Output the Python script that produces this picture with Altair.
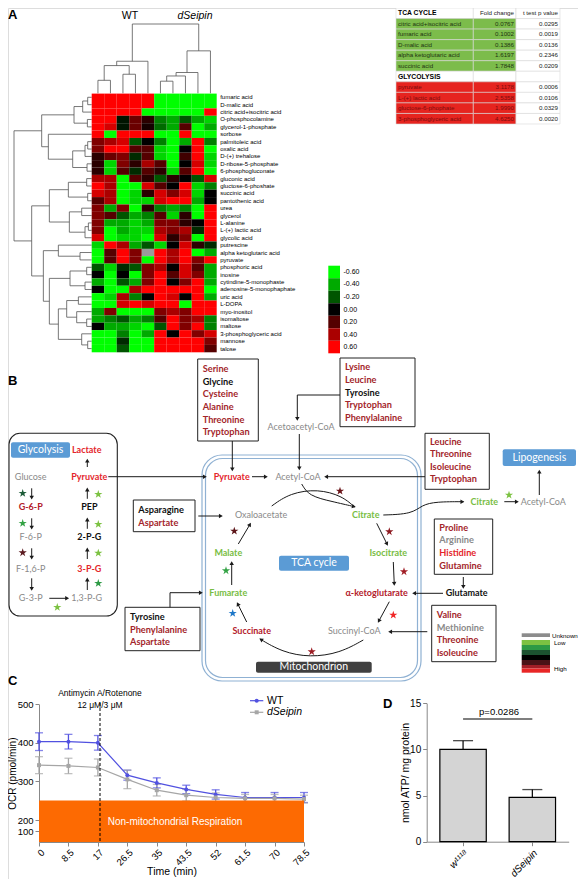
import math
import altair as alt
import pandas as pd

W, H = 570, 871

# ======================= DATA =======================
# ---- Panel A : heat map ----
metabolites = [
    "fumaric acid", "D-malic acid", "citric acid+isocitric acid", "O-phosphocolamine",
    "glycerol-1-phosphate", "sorbose", "palmitoleic acid", "oxalic acid", "D-(+) trehalose",
    "D-ribose-5-phosphate", "6-phosphogluconate", "gluconic acid", "gluctose-6-phoshate",
    "succinic acid", "pantothenic acid", "urea", "glycerol", "L-alanine", "L-(+) lactic acid",
    "glycolic acid", "putrescine", "alpha ketoglutaric acid", "pyruvate", "phosphoric acid",
    "inosine", "cytindine-5-monophaste", "adenosine-5-monophaphate", "uric acid", "L-DOPA",
    "myo-inositol", "isomaltose", "maltose", "3-phosphoglyceric acid", "mannose", "talose"]
samples = ["WT1", "WT2", "WT3", "WT4", "WT5", "dS1", "dS2", "dS3", "dS4", "dS5"]
heat = [
    [0.6, 0.6, 0.6, 0.6, 0.6, -0.6, -0.6, -0.6, -0.6, -0.6],
    [0.6, 0.6, 0.6, 0.6, 0.6, -0.6, -0.6, -0.6, -0.6, -0.6],
    [0.6, 0.6, 0.6, 0.6, -0.6, -0.6, -0.6, -0.6, -0.6, 0.6],
    [0.6, 0.6, -0.05, 0.25, 0.1, -0.3, -0.4, -0.2, -0.4, -0.5],
    [0.6, 0.5, -0.05, 0.25, 0.05, -0.25, -0.4, 0.2, -0.6, -0.4],
    [0.6, -0.6, 0.6, 0.6, 0.6, -0.6, -0.6, 0.6, -0.6, -0.6],
    [0.3, 0.4, 0.5, -0.2, 0.0, -0.3, -0.6, -0.4, 0.6, -0.3],
    [0.3, 0.6, 0.6, 0.2, 0.2, -0.5, -0.6, 0.0, 0.6, -0.6],
    [0.1, 0.25, 0.3, -0.1, 0.2, -0.5, -0.6, 0.15, 0.6, -0.5],
    [0.1, -0.5, 0.3, 0.1, 0.4, 0.2, -0.6, 0.0, 0.5, -0.5],
    [0.1, -0.5, 0.2, -0.1, 0.2, 0.1, -0.5, 0.2, 0.6, -0.6],
    [0.4, 0.4, -0.6, 0.2, 0.1, -0.2, 0.1, 0.0, -0.2, 0.5],
    [0.6, 0.4, -0.6, -0.6, 0.5, 0.2, 0.0, 0.6, -0.5, -0.3],
    [0.5, 0.4, -0.6, -0.5, 0.1, 0.5, 0.3, 0.5, -0.5, 0.0],
    [0.2, 0.4, -0.6, -0.5, -0.5, 0.5, 0.6, 0.6, -0.4, 0.0],
    [0.3, -0.4, 0.3, -0.6, 0.1, -0.3, -0.4, -0.3, -0.6, 0.6],
    [0.3, 0.2, -0.2, -0.4, -0.3, 0.2, -0.5, 0.1, -0.6, 0.6],
    [0.3, -0.4, -0.4, -0.5, -0.4, 0.3, 0.3, 0.1, 0.0, 0.6],
    [0.3, -0.6, -0.4, -0.5, -0.5, 0.4, 0.3, 0.4, -0.1, 0.6],
    [0.5, -0.6, -0.5, -0.5, -0.6, 0.5, 0.1, 0.3, -0.6, 0.6],
    [-0.5, 0.6, 0.4, -0.4, -0.2, -0.5, 0.0, 0.5, 0.1, -0.1],
    [-0.6, 0.2, 0.6, 0.3, None, 0.6, 0.4, 0.6, -0.6, -0.4],
    [-0.6, 0.2, 0.6, 0.3, -0.6, 0.6, 0.4, 0.6, 0.3, 0.6],
    [-0.2, -0.5, -0.1, -0.2, 0.3, 0.4, 0.0, 0.5, 0.2, -0.4],
    [0.0, -0.6, 0.0, -0.6, 0.3, 0.6, 0.2, 0.5, 0.3, -0.4],
    [-0.4, -0.6, -0.2, -0.4, 0.3, 0.6, 0.0, 0.3, 0.6, -0.4],
    [0.0, -0.6, -0.6, 0.4, 0.6, 0.6, 0.6, 0.6, 0.6, -0.6],
    [-0.6, -0.5, 0.4, -0.3, 0.0, 0.6, 0.5, 0.0, 0.6, -0.4],
    [-0.6, -0.6, 0.5, 0.6, 0.5, 0.6, 0.6, -0.6, 0.6, 0.6],
    [-0.4, 0.3, -0.6, -0.6, -0.6, 0.3, 0.4, 0.3, 0.6, 0.6],
    [-0.4, -0.3, -0.2, -0.4, -0.3, 0.2, 0.6, 0.3, 0.4, -0.3],
    [0.0, -0.4, -0.4, -0.5, -0.6, -0.2, 0.6, 0.3, 0.6, -0.3],
    [-0.6, -0.6, -0.3, -0.6, -0.4, 0.6, 0.0, 0.6, 0.3, 0.5],
    [-0.6, -0.6, -0.1, -0.6, -0.6, 0.6, 0.6, 0.6, 0.6, 0.3],
    [-0.6, -0.6, -0.2, -0.6, -0.6, 0.6, 0.6, 0.6, 0.6, 0.2],
]
legend_vals = [-0.6, -0.4, -0.2, 0.0, 0.2, 0.4, 0.6]
legend_labels = ["-0.60", "-0.40", "-0.20", "0.00", "0.20", "0.40", "0.60"]
# hierarchical clustering merges: (left, right, height)
col_merges = [(0, 1, 15), (2, 3, 22), (10, 11, 32), (12, 4, 37), (5, 6, 14),
              (14, 7, 20), (15, 8, 24), (16, 9, 49), (13, 17, 80)]
row_merges = [(0, 1, 12), (35, 2, 27), (3, 4, 13), (36, 37, 53), (6, 7, 12), (39, 8, 20),
              (9, 10, 14), (40, 41, 57), (5, 42, 130), (38, 43, 150), (11, 12, 15), (13, 14, 12),
              (45, 46, 70), (15, 16, 30), (17, 18, 10), (49, 19, 20), (48, 50, 67), (47, 51, 127),
              (21, 22, 35), (20, 53, 100), (23, 24, 15), (25, 26, 20), (55, 56, 65), (27, 28, 40),
              (30, 31, 15), (29, 59, 45), (58, 60, 75), (33, 34, 12), (32, 62, 30), (61, 63, 100),
              (57, 64, 127), (54, 65, 145), (52, 66, 180), (44, 67, 233)]
group_labels = ["WT", "dSeipin"]

# ---- Panel A : table ----
table_header = ["TCA CYCLE", "Fold change", "t test p value"]
tca_names = ["citric acid+isocitric acid", "fumaric acid", "D-malic acid",
             "alpha ketoglutaric acid", "succinic acid"]
tca_fold = ["0.0767", "0.1002", "0.1386", "1.6197", "1.7848"]
tca_p = ["0.0295", "0.0019", "0.0136", "0.2346", "0.0209"]
gly_title = "GLYCOLYSIS"
gly_names = ["pyruvate", "L-(+) lactic acid", "gluctose-6-phophate", "3-phosphoglyceric acid"]
gly_fold = ["3.1178", "2.5358", "1.9990", "4.6250"]
gly_p = ["0.0006", "0.0106", "0.0329", "0.0020"]

# ---- Panel C ----
times = ["0", "8.5", "17", "26.5", "35", "43.5", "52", "61.5", "70", "78.5"]
wt_mean = [403, 403, 400, 316, 296, 279, 266, 258, 258, 258]
wt_err = [23, 19, 19, 13, 13, 11, 12, 13, 13, 13]
ds_mean = [342, 340, 336, 305, 277, 264, 258, 256, 256, 254]
ds_err = [22, 20, 22, 24, 15, 15, 12, 10, 10, 10]
non_mito = 250
series_names = ["WT", "dSeipin"]

# ---- Panel D ----
atp_groups = ["w\u00b9\u00b9\u00b9\u2078", "dSeipin"]
atp_mean = [10.0, 4.8]
atp_err = [0.95, 0.85]
p_text = "p=0.0286"
p_line = 13.3

# ---- Panel B (pathway schematic) ----
DR, RD, KR = "#a3262b", "#e4262c", "#b3202b"
GY, GN, BK = "#8a8a8a", "#78bd43", "#111111"
aa_serine = [("Serine", DR), ("Glycine", BK), ("Cysteine", DR), ("Alanine", DR),
             ("Threonine", DR), ("Tryptophan", DR)]
aa_lysine = [("Lysine", DR), ("Leucine", DR), ("Tyrosine", BK), ("Tryptophan", DR),
             ("Phenylalanine", DR)]
aa_leucine = [("Leucine", DR), ("Threonine", DR), ("Isoleucine", DR), ("Tryptophan", DR)]
aa_asparagine = [("Asparagine", BK), ("Aspartate", DR)]
aa_tyrosine = [("Tyrosine", BK), ("Phenylalanine", DR), ("Aspartate", DR)]
aa_proline = [("Proline", DR), ("Arginine", GY), ("Histidine", RD), ("Glutamine", DR)]
aa_valine = [("Valine", DR), ("Methionine", GY), ("Threonine", DR), ("Isoleucine", DR)]
metab_bold = [("Lactate", 86.7, 450, RD), ("Pyruvate", 89.3, 476.7, RD), ("G-6-P", 30.7, 506.7, KR),
              ("PEP", 89.3, 506.7, BK), ("2-P-G", 89.3, 537, BK), ("3-P-G", 89.3, 568.7, RD),
              ("Pyruvate", 231.7, 476.7, RD), ("Citrate", 365.7, 515, GN),
              ("Isocitrate", 388.3, 553.3, GN), ("\u03b1-ketoglutarate", 376.7, 592.7, KR),
              ("Succinate", 251.7, 631, KR), ("Fumarate", 228.3, 592.7, GN),
              ("Malate", 228.3, 553.3, GN), ("Glutamate", 466.7, 593.3, BK),
              ("Citrate", 484.3, 501.7, GN)]
metab_plain = [("Glucose", 30.7, 476.7, GY), ("F-6-P", 30.7, 537, GY), ("F-1,6-P", 30.7, 568.7, GY),
               ("G-3-P", 30.7, 598.3, GY), ("1,3-P-G", 86.7, 598.3, GY),
               ("Acetyl-CoA", 298, 476.7, GY), ("Acetoacetyl-CoA", 301, 427, GY),
               ("Oxaloacetate", 261, 515, GY), ("Succinyl-CoA", 354.3, 631, GY),
               ("Acetyl-CoA", 543.3, 501.7, GY)]
tag_boxes = [("Glycolysis", "#5b9bd5"), ("TCA cycle", "#5b9bd5"), ("Lipogenesis", "#5b9bd5"),
             ("Mitochondrion", "#404040")]
star_colors = ["#1d5c38", "#34a345", "#5b1a1f", "#7cc242", "#7cc242", "#7cc242", "#2d9a45",
               "#7cc242", "#6b1519", "#8e1b22", "#a11e26", "#f02626", "#9c1d24", "#1f78c8",
               "#34a345", "#5c1519", "#7cc242"]
key_colors = ["#8c8c8c", "#7cc242", "#2e9a45", "#1c5230", "#000000", "#4a1216", "#a11e26", "#e82626"]
key_labels = ["Unknown", "Low", "High"]

# ======================= LAYOUT (pixel geometry, not data) =======================
SX = alt.Scale(domain=[8, 8 + W], range=[0, W])   # reference-pixel frame -> chart
SY = alt.Scale(domain=[8, 8 + H], range=[0, H])
HM_X = [83.7, 208.7]
HM_Y = [85.6, 344.3]


def ix(f="x"):
    return alt.X(f"{f}:Q", scale=SX, axis=None)


def iy(f="y"):
    return alt.Y(f"{f}:Q", scale=SY, axis=None)


layers = []

# ---------- dendrograms ----------
def dendro(n, merges):
    pos = {i: float(i) for i in range(n)}
    hg = {i: 0.0 for i in range(n)}
    segs = []
    for k, (a, b, h) in enumerate(merges):
        segs.append((pos[a], hg[a], pos[a], h))
        segs.append((pos[b], hg[b], pos[b], h))
        segs.append((pos[a], h, pos[b], h))
        pos[n + k] = (pos[a] + pos[b]) / 2
        hg[n + k] = h
    return pd.DataFrame(segs, columns=["p1", "h1", "p2", "h2"])


rd = dendro(len(metabolites), row_merges)
layers.append(alt.Chart(rd).mark_rule(color="#555555", strokeWidth=0.8).encode(
    x=alt.X("h1:Q", scale=alt.Scale(domain=[0, 233], range=[HM_X[0], 6]), axis=None),
    x2="h2", y=alt.Y("p1:Q", scale=alt.Scale(domain=[-0.5, len(metabolites) - 0.5], range=HM_Y), axis=None),
    y2="p2"))
cd = dendro(len(samples), col_merges)
layers.append(alt.Chart(cd).mark_rule(color="#555555", strokeWidth=0.8).encode(
    x=alt.X("p1:Q", scale=alt.Scale(domain=[-0.5, len(samples) - 0.5], range=HM_X), axis=None),
    x2="p2", y=alt.Y("h1:Q", scale=alt.Scale(domain=[0, 80], range=[HM_Y[0] - 0.3, 16]), axis=None),
    y2="h2"))

# ---------- heat map ----------
hm = pd.DataFrame([(m, s, heat[i][j]) for i, m in enumerate(metabolites) for j, s in enumerate(samples)],
                  columns=["met", "smp", "v"])
HEAT = alt.Scale(domain=[-0.6, 0, 0.6], range=["#00ff00", "#000000", "#ff0000"], clamp=True, interpolate="rgb")
hx = alt.X("smp:N", sort=samples, scale=alt.Scale(domain=samples, range=HM_X, paddingInner=0, paddingOuter=0), axis=None)
layers.append(alt.Chart(hm).transform_filter("!isValid(datum.v)").mark_rect(color="#9a9a9a").encode(
    x=hx, y=alt.Y("met:N", sort=metabolites, scale=alt.Scale(domain=metabolites, range=HM_Y, paddingInner=0, paddingOuter=0), axis=None)))
layers.append(alt.Chart(hm).transform_filter("isValid(datum.v)").mark_rect().encode(
    x=hx,
    y=alt.Y("met:N", sort=metabolites,
            scale=alt.Scale(domain=metabolites, range=HM_Y, paddingInner=0, paddingOuter=0),
            axis=alt.Axis(orient="right", offset=-(W - HM_X[1]), ticks=False, domain=False, labelPadding=3,
                          labelFontSize=6, labelFont="Liberation Sans", labelColor="black", title=None,
                          labelOverlap=False, grid=False)),
    color=alt.Color("v:Q", scale=HEAT, legend=None)))

# heat legend
lg = pd.DataFrame({"v": legend_vals, "lab": legend_labels})
layers.append(alt.Chart(lg).mark_rect().encode(
    y=alt.Y("lab:N", sort=legend_labels,
            scale=alt.Scale(domain=legend_labels, range=[257.7, 345.3], paddingInner=0, paddingOuter=0),
            axis=alt.Axis(orient="right", offset=-(W - 332), ticks=False, domain=False, labelPadding=3,
                          labelFontSize=7, labelFont="Liberation Sans", labelColor="black", title=None,
                          labelOverlap=False, grid=False)),
    x=alt.value(320.3), x2=alt.value(332),
    color=alt.Color("v:Q", scale=HEAT, legend=None)))

# group labels
gl = pd.DataFrame({"t": group_labels, "x": [130, 195], "y": [11, 11], "st": ["normal", "italic"]})
for st in ["normal", "italic"]:
    layers.append(alt.Chart(gl[gl.st == st]).mark_text(fontSize=10.5, font="Liberation Sans", fontStyle=st,
                                                       baseline="top").encode(x=ix(), y=iy(), text="t:N"))

# ---------- table ----------
TB_EDGES = [388, 465.3, 508, 552]
TGREEN, TRED = "#7cbc4b", "#e6241f"
trows = [("head", table_header)]
trows += [("tca", [n, f, p]) for n, f, p in zip(tca_names, tca_fold, tca_p)]
trows += [("sect", [gly_title, "", ""])]
trows += [("gly", [n, f, p]) for n, f, p in zip(gly_names, gly_fold, gly_p)]
cells = []
for r, (kind, vals) in enumerate(trows):
    for c in range(3):
        fill = "#ffffff"
        tcol = "#222222"
        if kind == "tca" and c < 2:
            fill, tcol = TGREEN, "#1c3410"
        if kind == "gly" and c < 2:
            fill, tcol = TRED, "#7a0c0c"
        bold = (kind in ("head", "sect")) and c == 0
        cells.append(dict(r=r, c=c, x0=TB_EDGES[c], x1=TB_EDGES[c + 1], fill=fill, t=vals[c],
                          tc=tcol, bold=bold, xl=TB_EDGES[c] + 2, xr=TB_EDGES[c + 1] - 2))
tb = pd.DataFrame(cells)
TX = alt.Scale(domain=[0, W], range=[0, W])
TY = alt.Scale(domain=list(range(len(trows))), range=[0, 116], paddingInner=0, paddingOuter=0)
layers.append(alt.Chart(tb).mark_rect(stroke="#d9d9d9", strokeWidth=0.6).encode(
    x=alt.X("x0:Q", scale=TX, axis=None), x2="x1",
    y=alt.Y("r:O", scale=TY, axis=None), fill=alt.Fill("fill:N", scale=None)))
layers.append(alt.Chart(tb[(tb.c == 0) & (~tb.bold)]).mark_text(
    align="left", fontSize=6.2, font="Liberation Sans").encode(
    x=alt.X("xl:Q", scale=TX, axis=None), y=alt.Y("r:O", scale=TY, axis=None), text="t:N",
    color=alt.Color("tc:N", scale=None)))
layers.append(alt.Chart(tb[(tb.c == 0) & (tb.bold)]).mark_text(
    align="left", fontSize=6.8, font="Liberation Sans", fontWeight="bold").encode(
    x=alt.X("xl:Q", scale=TX, axis=None), y=alt.Y("r:O", scale=TY, axis=None), text="t:N",
    color=alt.value("black")))
layers.append(alt.Chart(tb[tb.c > 0]).mark_text(
    align="right", fontSize=6.2, font="Liberation Sans").encode(
    x=alt.X("xr:Q", scale=TX, axis=None), y=alt.Y("r:O", scale=TY, axis=None), text="t:N",
    color=alt.Color("tc:N", scale=None)))

# ---------- Panel B ----------
def box_df(rows):
    return pd.DataFrame(rows, columns=["x", "y", "x2", "y2"])

# mitochondrion double membrane
layers.append(alt.Chart(box_df([(202, 455, 421, 681)])).mark_rect(
    fillOpacity=0, stroke="#8fb1d3", strokeWidth=1.2, cornerRadius=20).encode(x=ix(), x2="x2", y=iy(), y2="y2"))
layers.append(alt.Chart(box_df([(205.5, 458.5, 417.5, 677.5)])).mark_rect(
    fillOpacity=0, stroke="#8fb1d3", strokeWidth=1.2, cornerRadius=17).encode(x=ix(), x2="x2", y=iy(), y2="y2"))
# glycolysis frame
layers.append(alt.Chart(box_df([(9, 433.3, 117.3, 616)])).mark_rect(
    fillOpacity=0, stroke="#222222", strokeWidth=1.1, cornerRadius=11).encode(x=ix(), x2="x2", y=iy(), y2="y2"))

aa_geom = [  # (list, box x0, y0, x1, y1, first line y, line step)
    (aa_serine, 197.7, 359, 258.3, 441, 369.3, 12.55),
    (aa_lysine, 340, 358, 415, 426.7, 367.3, 12.6),
    (aa_leucine, 425, 433.3, 489.3, 489.3, 441.7, 12.5),
    (aa_asparagine, 133.3, 500, 195, 531.7, 510, 12.7),
    (aa_tyrosine, 125, 607.3, 200, 650.7, 617.3, 12.5),
    (aa_proline, 434.3, 519, 492.7, 574.3, 527.7, 12.7),
    (aa_valine, 431.7, 605.3, 496, 661.7, 615, 12.5),
]
layers.append(alt.Chart(box_df([(g[1], g[2], g[3], g[4]) for g in aa_geom])).mark_rect(
    color="white", stroke="#222222", strokeWidth=1).encode(x=ix(), x2="x2", y=iy(), y2="y2"))
aa_txt = []
for lst, x0, y0, x1, y1, ty, st in aa_geom:
    for k, (name, col) in enumerate(lst):
        aa_txt.append((name, x0 + 5, ty + k * st, col))
aa_df = pd.DataFrame(aa_txt, columns=["t", "x", "y", "c"])
layers.append(alt.Chart(aa_df).mark_text(align="left", baseline="middle", fontSize=9.2, font="Lato",
                                         fontWeight="bold").encode(
    x=ix(), y=iy(), text="t:N", color=alt.Color("c:N", scale=None)))

# label boxes
tag_geom = [(11, 442.3, 70, 457.7), (279, 555.7, 349, 570.7), (502.7, 449.3, 576, 466), (256, 661.7, 371.7, 672.7)]
tg = pd.DataFrame([(t, c, *g) for (t, c), g in zip(tag_boxes, tag_geom)], columns=["t", "c", "x", "y", "x2", "y2"])
tg["cx"] = (tg.x + tg.x2) / 2
tg["cy"] = (tg.y + tg.y2) / 2
layers.append(alt.Chart(tg).mark_rect(cornerRadius=2).encode(
    x=ix(), x2="x2", y=iy(), y2="y2", color=alt.Color("c:N", scale=None)))
layers.append(alt.Chart(tg).mark_text(color="white", fontSize=10.5, font="Lato", baseline="middle").encode(
    x=ix("cx"), y=iy("cy"), text="t:N"))

# arrows
arrows = [
    (108.3, 476.7, 206, 476.7), (232.3, 441, 232.3, 470.5), (252, 476.7, 267, 476.7),
    (297.3, 395, 297.3, 420), (299.3, 434, 299.3, 469.5), (425, 476.7, 325, 476.7),
    (504.3, 501.7, 518, 501.7), (539.3, 495, 539.3, 470.5), (198.3, 516, 222, 516),
    (170, 592.7, 202, 592.7), (463.3, 577, 463.3, 588), (443, 593.3, 413, 593.3),
    (427.3, 631.7, 389, 631.7), (231.7, 585, 231.7, 562), (238.3, 544, 250.5, 523.5),
    (376.7, 523.3, 387.5, 545), (393.3, 562, 394.3, 585), (389.3, 601.7, 378.3, 622),
    (246.7, 622, 237.3, 603),
    (31.7, 488.3, 31.7, 498.8), (31.7, 518.3, 31.7, 528.8), (31.7, 548.3, 31.7, 558.8),
    (31.7, 578.3, 31.7, 590), (87.3, 590, 87.3, 578.3), (87.3, 559, 87.3, 548.3),
    (87.3, 528.8, 87.3, 518.3), (87.3, 498.8, 87.3, 488.3), (87.3, 467, 87.3, 459.5),
    (49.3, 598.3, 68.3, 598.3),
]
plain = [(340, 395, 297.3, 395), (170, 607.3, 170, 592.7)]
curves = [
    ("oaa", [(271.7, 506), (290, 493), (318, 489), (342, 496), (354, 506.5)], False),
    ("acoa", [(301.7, 484), (309, 496), (332, 501.5), (355, 506.8)], True),
    ("succ", [(363.3, 640), (340, 653), (310, 657.5), (282, 652), (260, 639)], True),
    ("cit", [(383.3, 515), (412, 514), (422, 505), (436, 501.7), (463.5, 501.7)], True),
]
seg_rows = list(plain)
for (x1, y1, x2, y2) in arrows:
    L = math.hypot(x2 - x1, y2 - y1)
    seg_rows.append((x1, y1, x2 - (x2 - x1) / L * 2, y2 - (y2 - y1) / L * 2))
layers.append(alt.Chart(box_df(seg_rows)).mark_rule(color="#1a1a1a", strokeWidth=1).encode(
    x=ix(), x2="x2", y=iy(), y2="y2"))
cv = pd.DataFrame([(nm, i, x, y) for nm, pts, _ in curves for i, (x, y) in enumerate(pts)],
                  columns=["id", "i", "x", "y"])
layers.append(alt.Chart(cv).mark_line(interpolate="basis", color="#1a1a1a", strokeWidth=1).encode(
    x=ix(), y=iy(), detail="id:N", order="i:Q"))
heads = []
ends = [(a[0], a[1], a[2], a[3]) for a in arrows]
ends += [(pts[-2][0], pts[-2][1], pts[-1][0], pts[-1][1]) for _, pts, hd in curves if hd]
for (x1, y1, x2, y2) in ends:
    L = math.hypot(x2 - x1, y2 - y1)
    ux, uy = (x2 - x1) / L, (y2 - y1) / L
    heads.append((x2 - ux * 1.8, y2 - uy * 1.8, math.degrees(math.atan2(ux, -uy)) % 360))
hd = pd.DataFrame(heads, columns=["x", "y", "ang"])
layers.append(alt.Chart(hd).mark_point(shape="triangle", filled=True, size=20, color="#1a1a1a", opacity=1).encode(
    x=ix(), y=iy(), angle=alt.Angle("ang:Q", scale=None)))

# stars
STAR = ("M0,-1L0.2245,-0.309L0.9511,-0.309L0.3633,0.118L0.5878,0.809L0,0.382L-0.5878,0.809"
        "L-0.3633,0.118L-0.9511,-0.309L-0.2245,-0.309Z")
star_pos = [(22.7, 493.3), (22.7, 523.3), (22.7, 552.7), (98.3, 494.3), (98.3, 524.3), (98.3, 553),
            (98.3, 583.3), (57.3, 607.3), (340, 491), (389.3, 531.7), (404, 571.7), (393.3, 615),
            (311.7, 651.7), (232.7, 613.3), (226, 570.7), (234.3, 531), (509, 495)]
sd = pd.DataFrame([(x, y, c) for (x, y), c in zip(star_pos, star_colors)], columns=["x", "y", "c"])
layers.append(alt.Chart(sd).mark_point(shape=STAR, filled=True, size=75, opacity=1, strokeWidth=0).encode(
    x=ix(), y=iy(), color=alt.Color("c:N", scale=None)))

# metabolite names
mb = pd.DataFrame(metab_bold, columns=["t", "x", "y", "c"])
layers.append(alt.Chart(mb).mark_text(fontSize=9, font="Lato", fontWeight="bold", baseline="middle").encode(
    x=ix(), y=iy(), text="t:N", color=alt.Color("c:N", scale=None)))
mp = pd.DataFrame(metab_plain, columns=["t", "x", "y", "c"])
layers.append(alt.Chart(mp).mark_text(fontSize=9, font="Lato", baseline="middle").encode(
    x=ix(), y=iy(), text="t:N", color=alt.Color("c:N", scale=None)))

# colour key of panel B
key_geom = [(633.3, 637), (640, 645), (645, 650), (650, 655), (655, 660), (660, 665), (665, 668.5), (668.5, 672.7)]
kd = pd.DataFrame([(521.7, a, 550, b, c) for (a, b), c in zip(key_geom, key_colors)],
                  columns=["x", "y", "x2", "y2", "c"])
layers.append(alt.Chart(kd).mark_rect().encode(x=ix(), x2="x2", y=iy(), y2="y2", color=alt.Color("c:N", scale=None)))
kl = pd.DataFrame({"t": key_labels, "x": [552, 554, 554], "y": [635.5, 642.5, 668.5]})
layers.append(alt.Chart(kl).mark_text(align="left", baseline="middle", fontSize=6.2, font="Liberation Sans").encode(
    x=ix(), y=iy(), text="t:N"))

# panel letters
pl = pd.DataFrame({"t": ["A", "B", "C", "D"], "x": [8, 8, 8, 383], "y": [9, 375, 675, 698]})
layers.append(alt.Chart(pl).mark_text(align="left", baseline="top", fontSize=13, font="Liberation Sans",
                                      fontWeight="bold").encode(x=ix(), y=iy(), text="t:N"))

# ---------- Panel C ----------
C_X = alt.Scale(type="point", domain=times, range=[31, 296], padding=0)
C_Y = alt.Scale(domain=[0, 200, 250, 500], range=[834, 812, 792.6, 696.3], nice=False, zero=False)
SER = alt.Scale(domain=series_names, range=["#5151e0", "#a6a6a6"])
cdf = pd.DataFrame(
    [(t, "WT", m, m - e, m + e) for t, m, e in zip(times, wt_mean, wt_err)] +
    [(t, "dSeipin", m, m - e, m + e) for t, m, e in zip(times, ds_mean, ds_err)],
    columns=["t", "s", "m", "lo", "hi"])
cx = alt.X("t:O", sort=times, scale=C_X, axis=None)
layers.append(alt.Chart(cdf).mark_rule(strokeWidth=1.3).encode(
    x=cx, y=alt.Y("lo:Q", scale=C_Y, axis=None), y2="hi", color=alt.Color("s:N", scale=SER, legend=None)))
for f in ["lo", "hi"]:
    layers.append(alt.Chart(cdf).mark_tick(size=8, thickness=1.3).encode(
        x=cx, y=alt.Y(f"{f}:Q", scale=C_Y, axis=None), color=alt.Color("s:N", scale=SER, legend=None)))
layers.append(alt.Chart(cdf).mark_line(strokeWidth=1.2).encode(
    x=alt.X("t:O", sort=times, scale=C_X,
            axis=alt.Axis(orient="bottom", offset=-37, labelAngle=315, labelFontSize=9.5, labelPadding=1,
                          title="Time (min)", titleFontSize=10.5, titleFontWeight="normal", titlePadding=0,
                          tickSize=4, grid=False)),
    y=alt.Y("m:Q", scale=C_Y,
            axis=alt.Axis(orient="left", offset=-31, values=[100, 200, 300, 400, 500], labelFontSize=9.5,
                          tickSize=4, labelPadding=2, title="OCR (pmol/min)", titleFontSize=10,
                          titleFontWeight="normal", titleX=-26.5, titleBaseline="middle", grid=False)),
    color=alt.Color("s:N", scale=SER, legend=None)))
layers.append(alt.Chart(cdf).mark_point(filled=True, size=16, opacity=1).encode(
    x=cx, y=alt.Y("m:Q", scale=C_Y, axis=None), color=alt.Color("s:N", scale=SER, legend=None),
    shape=alt.Shape("s:N", scale=alt.Scale(domain=series_names, range=["circle", "square"]), legend=None)))
# non-mitochondrial respiration band
nm = pd.DataFrame({"a": [times[0]], "b": [times[-1]], "lo": [0], "hi": [non_mito]})
layers.append(alt.Chart(nm).mark_rect(color="#fd6a02").encode(
    x=cx, x2="b", y=alt.Y("lo:Q", scale=C_Y, axis=None), y2="hi").transform_calculate(t="datum.a"))
ann = pd.DataFrame({"t": ["Non-mitochondrial Respiration"], "x": [175], "y": [822]})
layers.append(alt.Chart(ann).mark_text(color="white", fontSize=10, font="Liberation Sans", baseline="middle").encode(
    x=ix(), y=iy(), text="t:N"))
layers.append(alt.Chart(box_df([(100, 703, 100, 842)])).mark_rule(color="black", strokeDash=[3, 2], strokeWidth=1).encode(
    x=ix(), x2="x2", y=iy(), y2="y2"))
an2 = pd.DataFrame({"t": ["Antimycin A/Rotenone", "12 \u03bcM/3 \u03bcM"], "x": [100, 100], "y": [693, 705]})
layers.append(alt.Chart(an2).mark_text(fontSize=8.5, font="Liberation Sans", baseline="middle").encode(
    x=ix(), y=iy(), text="t:N"))
# legend of panel C
lgc = pd.DataFrame({"s": series_names, "x": [250, 250], "x2": [263.3, 263.3], "y": [700.7, 712.3],
                    "xm": [256.7, 256.7], "xt": [267, 267]})
layers.append(alt.Chart(lgc).mark_rule(strokeWidth=1.2).encode(
    x=ix(), x2="x2", y=iy(), color=alt.Color("s:N", scale=SER, legend=None)))
layers.append(alt.Chart(lgc).mark_point(filled=True, size=16, opacity=1).encode(
    x=ix("xm"), y=iy(), color=alt.Color("s:N", scale=SER, legend=None),
    shape=alt.Shape("s:N", scale=alt.Scale(domain=series_names, range=["circle", "square"]), legend=None)))
for s, st in zip(series_names, ["normal", "italic"]):
    layers.append(alt.Chart(lgc[lgc.s == s]).mark_text(align="left", baseline="middle", fontSize=10.5,
                                                       font="Liberation Sans", fontStyle=st).encode(
        x=ix("xt"), y=iy(), text="s:N"))

# ---------- Panel D ----------
D_X = alt.Scale(type="band", domain=atp_groups, range=[418.7, 560.7], paddingInner=0.33, paddingOuter=0.19)
D_Y = alt.Scale(domain=[0, 15], range=[833.7, 695.3], nice=False)
ddf = pd.DataFrame({"g": atp_groups, "m": atp_mean, "hi": [m + e for m, e in zip(atp_mean, atp_err)]})
dx = alt.X("g:N", sort=atp_groups, scale=D_X, axis=None)
layers.append(alt.Chart(ddf).mark_rule(color="black", strokeWidth=1.2).encode(
    x=dx, y=alt.Y("m:Q", scale=D_Y, axis=None), y2="hi"))
layers.append(alt.Chart(ddf).mark_tick(color="black", size=20, thickness=1.3).encode(
    x=dx, y=alt.Y("hi:Q", scale=D_Y, axis=None)))
layers.append(alt.Chart(ddf).mark_bar(color="#d4d4d4", stroke="black", strokeWidth=1.2).encode(
    x=alt.X("g:N", sort=atp_groups, scale=D_X,
            axis=alt.Axis(orient="bottom", offset=-37.3, labelAngle=315, labelFontSize=10,
                          labelFontStyle="italic", title=None, tickSize=4, grid=False)),
    y=alt.Y("m:Q", scale=D_Y,
            axis=alt.Axis(orient="left", offset=-418.7, values=[0, 5, 10, 15], labelFontSize=10, tickSize=4,
                          title="nmol ATP/ mg protein", titleFontSize=10.5, titleFontWeight="normal",
                          titleX=-21.7, titleBaseline="middle", grid=False))))
sig = pd.DataFrame({"a": [atp_groups[0]], "b": [atp_groups[1]], "y": [p_line]})
layers.append(alt.Chart(sig).mark_rule(color="black", strokeWidth=1.2).encode(
    x=alt.X("a:N", scale=D_X, axis=None), x2="b", y=alt.Y("y:Q", scale=D_Y, axis=None)))
pt = pd.DataFrame({"t": [p_text], "x": [499], "y": [711.5]})
layers.append(alt.Chart(pt).mark_text(fontSize=9.5, font="Liberation Sans", baseline="middle").encode(
    x=ix(), y=iy(), text="t:N"))

chart = alt.layer(*layers).resolve_scale(
    x="independent", y="independent", color="independent", shape="independent",
    fill="independent", angle="independent"
).properties(
    width=W, height=H, autosize=alt.AutoSizeParams(type="none"), padding=0
).configure_view(stroke=None).configure_axis(
    labelFont="Liberation Sans", titleFont="Liberation Sans", labelColor="black", titleColor="black",
    domainColor="black", tickColor="black"
).configure(background="white")

chart.save("out.html", embed_options={"renderer": "svg", "actions": False})
